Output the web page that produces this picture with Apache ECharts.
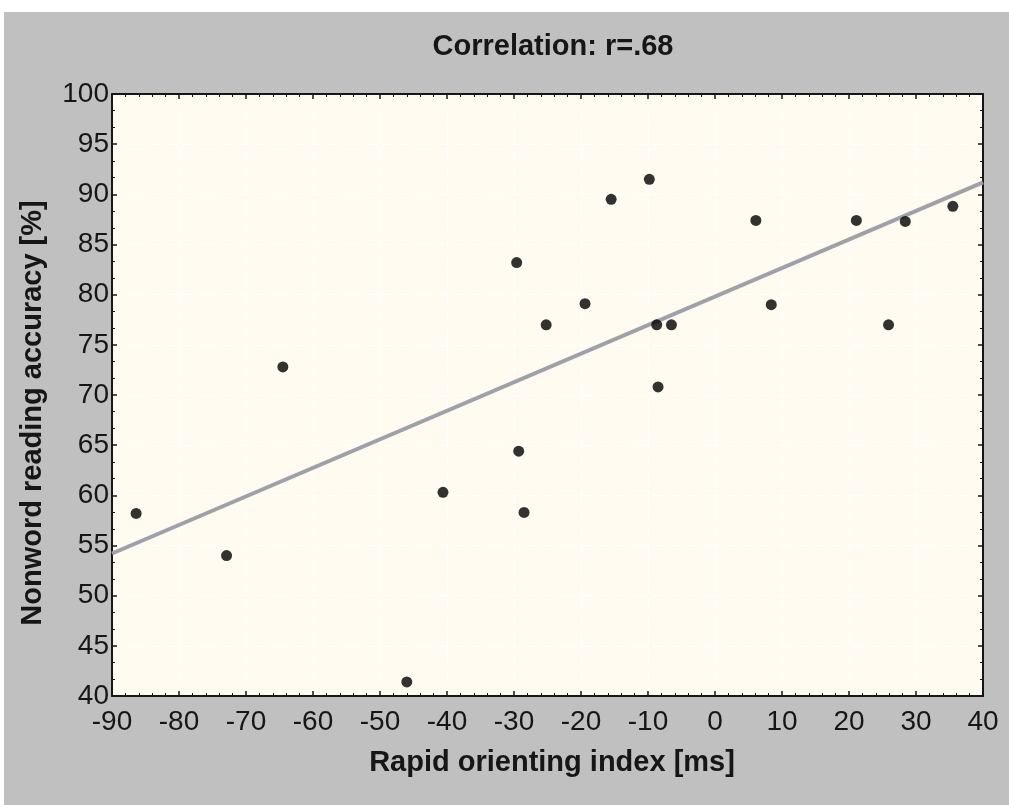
<!DOCTYPE html>
<html>
<head>
<meta charset="utf-8">
<script src="https://cdn.jsdelivr.net/npm/echarts@6/dist/echarts.min.js"></script>
<style>
  body { margin: 0; background: #ffffff; width: 1009px; height: 805px; overflow: hidden; }
  #chart { position: absolute; left: 4px; top: 12px; width: 1005px; height: 793px; background: #c0c0c0; }
</style>
</head>
<body>
<div id="chart"></div>
<script>
// values
const rotIndex = [-86.4, -72.9, -64.5, -9.8, -15.5, -29.6, -19.4, -25.2, -8.7, -6.5, -8.5,
    -29.3, -40.6, -28.5, -46.0, 6.1, 8.4, 21.1, 28.4, 25.9, 35.5];
const accuracy = [58.2, 54.0, 72.8, 91.5, 89.5, 83.2, 79.1, 77.0, 77.0, 77.0, 70.8,
    64.4, 60.3, 58.3, 41.4, 87.4, 79.0, 87.4, 87.3, 77.0, 88.8];
const fitX = [-90, 40];
const fitY = [54.2, 91.2];

const xTicks = {min: -90, max: 40, interval: 10};
const yTicks = {min: 40, max: 100, interval: 5};

const titleText = 'Correlation: r=.68';
const xName = 'Rapid orienting index [ms]';
const yName = 'Nonword reading accuracy [%]';

const font = '"Liberation Sans", Arial, sans-serif';
const dark = '#161616';

const myChart = echarts.init(document.getElementById('chart'));

function axisBase(isMain) {
    return {
        type: 'value',
        axisLine: {show: true, onZero: false, lineStyle: {color: dark, width: 2}},
        axisTick: {show: true, inside: true, length: 5, lineStyle: {color: dark, width: 1.5}},
        minorTick: {show: true, length: 3, lineStyle: {color: dark, width: 1}},
        axisLabel: {
            show: isMain,
            color: dark,
            fontSize: 28,
            fontFamily: font
        },
        splitLine: {
            show: isMain,
            lineStyle: {color: '#ffffff', width: 1, type: [12, 6]}
        }
    };
}

const xMain = Object.assign(axisBase(true), xTicks, {position: 'bottom'});
xMain.axisLabel.margin = 12;
xMain.minorTick.splitNumber = 5;
const xTop = Object.assign(axisBase(false), xTicks, {position: 'top'});
xTop.minorTick.splitNumber = 5;

const yMain = Object.assign(axisBase(true), yTicks, {position: 'left'});
yMain.axisLabel.margin = 3;
yMain.minorTick.splitNumber = 3;
const yRight = Object.assign(axisBase(false), yTicks, {position: 'right'});
yRight.minorTick.splitNumber = 3;

const option = {
    animation: false,
    grid: {
        left: 108,
        right: 26,
        top: 82,
        bottom: 109,
        show: true,
        backgroundColor: '#fffbf0',
        borderWidth: 0
    },
    xAxis: [xMain, xTop],
    yAxis: [yMain, yRight],
    graphic: [
        {
            type: 'text', x: 549, y: 35,
            style: {text: titleText, fontSize: 29, fontWeight: 'bold', fontFamily: font,
                fill: dark, align: 'center', verticalAlign: 'middle'}
        },
        {
            type: 'text', x: 548, y: 751,
            style: {text: xName, fontSize: 29, fontWeight: 'bold', fontFamily: font,
                fill: dark, align: 'center', verticalAlign: 'middle'}
        },
        {
            type: 'text', x: 29, y: 401, rotation: Math.PI / 2,
            style: {text: yName, fontSize: 29, fontWeight: 'bold', fontFamily: font,
                fill: dark, align: 'center', verticalAlign: 'middle'}
        }
    ],
    series: [
        {
            name: 'fit',
            type: 'line',
            data: fitX.map((x, i) => [x, fitY[i]]),
            showSymbol: false,
            lineStyle: {color: '#a0a0a8', width: 4},
            z: 2
        },
        {
            name: 'subjects',
            type: 'scatter',
            data: rotIndex.map((x, i) => [x, accuracy[i]]),
            symbol: 'circle',
            symbolSize: 11,
            itemStyle: {color: '#000000'},
            z: 3
        }
    ]
};

myChart.setOption(option);
</script>
</body>
</html>
